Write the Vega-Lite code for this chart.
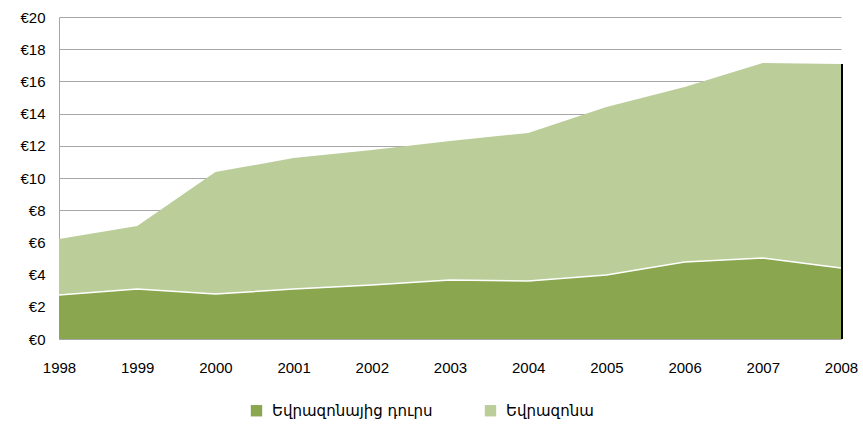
{
  "$schema": "https://vega.github.io/schema/vega-lite/v6.json",
  "width": 782,
  "height": 322,
  "autosize": {"type": "none"},
  "padding": {"left": 59, "top": 17, "right": 22, "bottom": 90},
  "background": "white",
  "config": {
    "view": {"stroke": null},
    "font": "Liberation Sans"
  },
  "data": {
    "values": [
      {"year": 1998, "series": "Եվրազոնայից դուրս", "ord": 1, "value": 2.73},
      {"year": 1999, "series": "Եվրազոնայից դուրս", "ord": 1, "value": 3.1},
      {"year": 2000, "series": "Եվրազոնայից դուրս", "ord": 1, "value": 2.8},
      {"year": 2001, "series": "Եվրազոնայից դուրս", "ord": 1, "value": 3.1},
      {"year": 2002, "series": "Եվրազոնայից դուրս", "ord": 1, "value": 3.35},
      {"year": 2003, "series": "Եվրազոնայից դուրս", "ord": 1, "value": 3.66},
      {"year": 2004, "series": "Եվրազոնայից դուրս", "ord": 1, "value": 3.6},
      {"year": 2005, "series": "Եվրազոնայից դուրս", "ord": 1, "value": 3.97},
      {"year": 2006, "series": "Եվրազոնայից դուրս", "ord": 1, "value": 4.78},
      {"year": 2007, "series": "Եվրազոնայից դուրս", "ord": 1, "value": 5.03},
      {"year": 2008, "series": "Եվրազոնայից դուրս", "ord": 1, "value": 4.41},
      {"year": 1998, "series": "Եվրազոնա", "ord": 2, "value": 3.48},
      {"year": 1999, "series": "Եվրազոնա", "ord": 2, "value": 3.92},
      {"year": 2000, "series": "Եվրազոնա", "ord": 2, "value": 7.57},
      {"year": 2001, "series": "Եվրազոնա", "ord": 2, "value": 8.14},
      {"year": 2002, "series": "Եվրազոնա", "ord": 2, "value": 8.39},
      {"year": 2003, "series": "Եվրազոնա", "ord": 2, "value": 8.64},
      {"year": 2004, "series": "Եվրազոնա", "ord": 2, "value": 9.2},
      {"year": 2005, "series": "Եվրազոնա", "ord": 2, "value": 10.44},
      {"year": 2006, "series": "Եվրազոնա", "ord": 2, "value": 10.87},
      {"year": 2007, "series": "Եվրազոնա", "ord": 2, "value": 12.11},
      {"year": 2008, "series": "Եվրազոնա", "ord": 2, "value": 12.67}
    ]
  },
  "encoding": {
    "x": {
      "field": "year", "type": "quantitative",
      "scale": {"domain": [1998, 2008], "nice": false, "zero": false},
      "axis": {
        "title": null, "values": [1998, 1999, 2000, 2001, 2002, 2003, 2004, 2005, 2006, 2007, 2008],
        "format": "d", "grid": false, "ticks": false, "domainColor": "#a6a6a6", "domainWidth": 1,
        "labelPadding": 21, "labelFlush": false, "labelOverlap": false,
        "labelFont": "Liberation Sans", "labelFontSize": 15, "labelColor": "#000000"
      }
    },
    "y": {
      "field": "value", "type": "quantitative",
      "scale": {"domain": [0, 20], "nice": false},
      "axis": {
        "title": null, "values": [0, 2, 4, 6, 8, 10, 12, 14, 16, 18, 20],
        "labelExpr": "'€' + datum.value", "ticks": false, "grid": true,
        "gridColor": "#a6a6a6", "gridWidth": 1, "domainColor": "#a6a6a6",
        "labelPadding": 14, "labelOverlap": false, "labelFlush": false,
        "labelFont": "Liberation Sans", "labelFontSize": 15, "labelColor": "#000000"
      }
    }
  },
  "layer": [
    {
      "mark": {"type": "area", "opacity": 1},
      "encoding": {
        "color": {
          "field": "series", "type": "nominal",
          "scale": {"domain": ["Եվրազոնայից դուրս", "Եվրազոնա"], "range": ["#8aa64f", "#bbce99"]},
          "legend": {
            "title": null, "orient": "none", "direction": "horizontal",
            "legendX": 190, "legendY": 386, "symbolType": "square", "symbolSize": 130,
            "symbolStrokeWidth": 0, "labelFont": "DejaVu Sans", "labelFontSize": 15,
            "labelLimit": 0, "labelOffset": 8,
            "labelColor": "#000000", "columnPadding": 50, "symbolOpacity": 1
          }
        },
        "order": {"field": "ord", "type": "quantitative"}
      }
    },
    {
      "transform": [{"filter": "datum.ord == 1"}],
      "mark": {"type": "line", "color": "white", "strokeWidth": 1.5}
    },
    {
      "transform": [
        {"filter": "datum.year == 2008"},
        {"aggregate": [{"op": "sum", "field": "value", "as": "value"}], "groupby": ["year"]}
      ],
      "mark": {"type": "rule", "color": "black", "strokeWidth": 2, "xOffset": 1},
      "encoding": {
        "y2": {"datum": 0}
      }
    }
  ]
}
